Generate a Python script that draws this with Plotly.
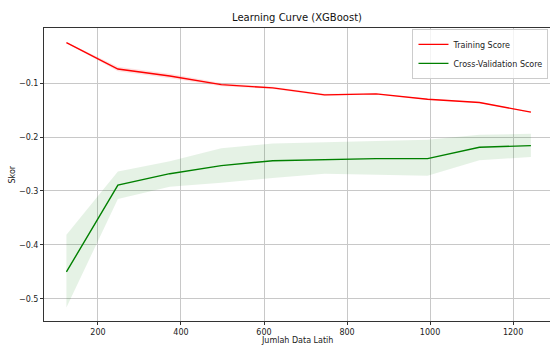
import plotly.graph_objects as go

train_sizes = [124, 248, 373, 497, 621, 746, 870, 994, 1119, 1243]
train_mean = [-0.025, -0.074, -0.087, -0.103, -0.109, -0.122, -0.120, -0.130, -0.136, -0.154]
train_std = [0.001, 0.004, 0.004, 0.003, 0.002, 0.002, 0.001, 0.001, 0.001, 0.001]
cv_mean = [-0.450, -0.289, -0.268, -0.253, -0.244, -0.242, -0.240, -0.240, -0.219, -0.216]
cv_upper = [-0.381, -0.264, -0.245, -0.221, -0.212, -0.210, -0.207, -0.205, -0.196, -0.194]
cv_lower = [-0.516, -0.315, -0.292, -0.285, -0.276, -0.268, -0.270, -0.272, -0.243, -0.237]

train_upper = [m + s for m, s in zip(train_mean, train_std)]
train_lower = [m - s for m, s in zip(train_mean, train_std)]

fig = go.Figure()
fig.add_trace(go.Scatter(x=train_sizes, y=train_upper, mode="lines", line=dict(width=0),
                         showlegend=False, hoverinfo="skip"))
fig.add_trace(go.Scatter(x=train_sizes, y=train_lower, mode="lines", line=dict(width=0),
                         fill="tonexty", fillcolor="rgba(255,0,0,0.12)", showlegend=False, hoverinfo="skip"))
fig.add_trace(go.Scatter(x=train_sizes, y=cv_upper, mode="lines", line=dict(width=0),
                         showlegend=False, hoverinfo="skip"))
fig.add_trace(go.Scatter(x=train_sizes, y=cv_lower, mode="lines", line=dict(width=0),
                         fill="tonexty", fillcolor="rgba(0,128,0,0.1)", showlegend=False, hoverinfo="skip"))
fig.add_trace(go.Scatter(x=train_sizes, y=train_mean, mode="lines", name="Training Score",
                         line=dict(color="#ff0000", width=1.4)))
fig.add_trace(go.Scatter(x=train_sizes, y=cv_mean, mode="lines", name="Cross-Validation Score",
                         line=dict(color="#008000", width=1.4)))

font = "DejaVu Sans, sans-serif"
fig.update_layout(
    width=550, height=345,
    margin=dict(l=44, r=0, t=28, b=24, autoexpand=False),
    paper_bgcolor="white", plot_bgcolor="white",
    font=dict(family=font, size=8, color="#222"),
    title=dict(text="Learning Curve (XGBoost)", x=0.54, xanchor="center", y=0.96, yanchor="top",
               font=dict(size=10, color="#111")),
    xaxis=dict(range=[70, 1289], tickvals=[200, 400, 600, 800, 1000, 1200],
               showgrid=True, gridcolor="#c8c8c8", gridwidth=1,
               showline=True, linecolor="#333", linewidth=1, mirror=True,
               ticks="outside", ticklen=3, tickcolor="#333", zeroline=False,
               automargin=False),
    yaxis=dict(range=[-0.541, 0.002], tickvals=[-0.1, -0.2, -0.3, -0.4, -0.5],
               ticktext=["\u22120.1", "\u22120.2", "\u22120.3", "\u22120.4", "\u22120.5"],
               showgrid=True, gridcolor="#c8c8c8", gridwidth=1,
               showline=True, linecolor="#333", linewidth=1, mirror=False,
               ticks="outside", ticklen=3, tickcolor="#333", zeroline=False,
               automargin=False),
    legend=dict(x=0.997, y=0.997, xanchor="right", yanchor="top", traceorder="normal",
                bgcolor="rgba(255,255,255,0.8)", bordercolor="#ccc", borderwidth=1,
                font=dict(size=8), tracegroupgap=0, itemwidth=30),
    showlegend=True,
    annotations=[
        dict(text="Jumlah Data Latih", xref="paper", yref="paper", x=0.5, y=0,
             yshift=-13, xanchor="center", yanchor="top", showarrow=False,
             font=dict(size=8, color="#222")),
        dict(text="Skor", xref="paper", yref="paper", x=0, y=0.5, xshift=-32,
             xanchor="center", yanchor="middle", textangle=-90, showarrow=False,
             font=dict(size=8, color="#222")),
    ],
)

fig.write_html("out.html", config={"displayModeBar": False},
               post_script="document.body.style.margin='0';document.body.style.overflow='hidden';")
